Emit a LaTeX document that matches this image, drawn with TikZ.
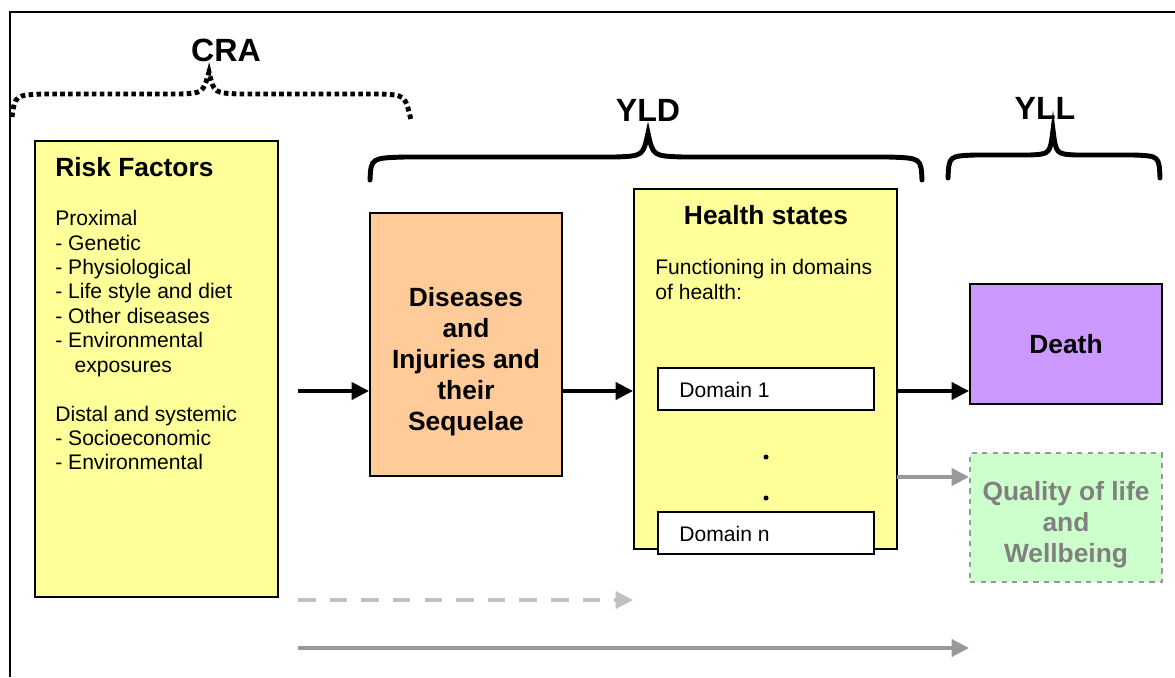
\documentclass[tikz,border=0pt]{standalone}
\usepackage{fontspec}
\setmainfont{Liberation Sans}
\usetikzlibrary{arrows.meta}
\usetikzlibrary{positioning}

\definecolor{rfyellow}{HTML}{FFFF99}
\definecolor{dispeach}{HTML}{FFCC99}
\definecolor{deathpurple}{HTML}{CC99FF}
\definecolor{qolgreen}{HTML}{CCFFCC}
\definecolor{arrowgray}{HTML}{999999}
\definecolor{dashgray}{HTML}{C0C0C0}
\definecolor{qoltext}{HTML}{808080}

\begin{document}
\begin{tikzpicture}[x=0.02cm, y=-0.02cm,
    box/.style = {draw, line width=1pt, inner sep=0pt},
    body/.style = {font=\fontsize{12}{13.9}\selectfont, inner sep=0pt, align=left},
    head/.style = {font=\fontsize{15}{18}\selectfont\bfseries, inner sep=0pt},
    big/.style = {font=\fontsize{15}{17.6}\selectfont\bfseries, inner sep=0pt, align=center},
    brlabel/.style = {font=\fontsize{18.3}{22}\selectfont\bfseries, inner sep=0pt},
    brace/.style = {line width=2.8pt, line cap=round},
    flow/.style = {line width=2.8pt, -{Triangle[length=10pt, width=9.6pt]}},
    ]
    \useasboundingbox (0,0) rectangle (1175,677);
    \draw[line width=0.8pt] (10,677) -- (10,12) -- (1175,12);

    % boxes
    \node[box, fill=rfyellow, minimum width=4.86cm, minimum height=9.12cm] (rf) at (156.5,369) {};
    \node[box, fill=dispeach, minimum width=3.84cm, minimum height=5.26cm] (dis) at (466,344.5) {};
    \node[box, fill=rfyellow, minimum width=5.26cm, minimum height=7.2cm] (hs) at (765.5,369) {};
    \node[box, fill=white, minimum width=4.32cm, minimum height=0.84cm] (dom1) at (766,389) {};
    \node[box, fill=white, minimum width=4.32cm, minimum height=0.84cm] (domn) at (766,533) {};
    \node[box, fill=deathpurple, minimum width=3.84cm, minimum height=2.4cm] (death) at (1066,344) {};
    \node[box, draw=arrowgray, dashed, fill=qolgreen, minimum width=3.84cm, minimum height=2.58cm] (qol) at (1066,517.5) {};

    % texts
    \node[head, anchor=west] (rftitle) at (55,167) {Risk Factors};
    \node[body, anchor=north west] (rflist) at (55,210) {Proximal\\- Genetic\\- Physiological\\- Life style and diet\\- Other diseases\\- Environmental\\\hspace*{11pt}exposures\\[13.9pt]Distal and systemic\\- Socioeconomic\\- Environmental};
    \node[big] (distext) at (dis.center |- 0,362) {Diseases\\and\\Injuries and\\their\\Sequelae};
    \node[head] (hstitle) at (766,215) {Health states};
    \node[body, anchor=north west] (hstext) at (655,259) {Functioning in domains\\of health:};
    \node[body, anchor=west] (dom1text) at (679,390) {Domain 1};
    \node[body, anchor=west] (domntext) at (679,534) {Domain n};
    \node[circle, fill, inner sep=0pt, minimum size=0.1cm] (dot1) at (766,457) {};
    \node[circle, fill, inner sep=0pt, minimum size=0.1cm] (dot2) at (766,498) {};
    \node[big] (deathtext) at (death.center) {Death};
    \node[big, text=qoltext] (qoltxt) at (1066,525) {Quality of life\\and\\Wellbeing};

    % braces
    \node[brlabel] (cra) at (226,50) {CRA};
    \node[brlabel] (yld) at (648,110) {YLD};
    \node[brlabel] (yll) at (1045,108) {YLL};
    \draw[brace, dash pattern=on 2.6pt off 1.9pt, line cap=butt]
        (12,117) .. controls (15,95) .. (45,94) -- (180,94) .. controls (203,93) .. (209,72)
        .. controls (214,93) .. (240,94) -- (380,94) .. controls (405,95) .. (411,120);
    \draw[brace] (370,180) .. controls (371,158) .. (405,157) -- (615,157)
        .. controls (643,156) .. (648,133) .. controls (653,156) .. (683,157)
        -- (888,157) .. controls (921,158) .. (922,180);
    \draw[brace] (948,178) .. controls (949,156) .. (975,155) -- (1030,155)
        .. controls (1050,154) .. (1053,130) .. controls (1056,154) .. (1076,155)
        -- (1134,155) .. controls (1159,156) .. (1160,178);

    % arrows
    \coordinate (rfout) at (298,391);
    \coordinate (hsout) at (897,477);
    \coordinate (cradash) at (298,600);
    \coordinate (yllline) at (298,648);
    \draw[flow] (rfout) -- (rfout -| dis.west);
    \draw[flow] (dis.east |- rfout) -- (hs.west |- rfout);
    \draw[flow] (hs.east |- rfout) -- (death.west |- rfout);
    \draw[flow, arrowgray] (hsout) -- (hsout -| qol.west);
    \draw[flow, dashgray, dash pattern=on 10pt off 8pt] (cradash) -- (cradash -| hs.west);
    \draw[flow, arrowgray] (yllline) -- (yllline -| death.west);
\end{tikzpicture}
\end{document}
